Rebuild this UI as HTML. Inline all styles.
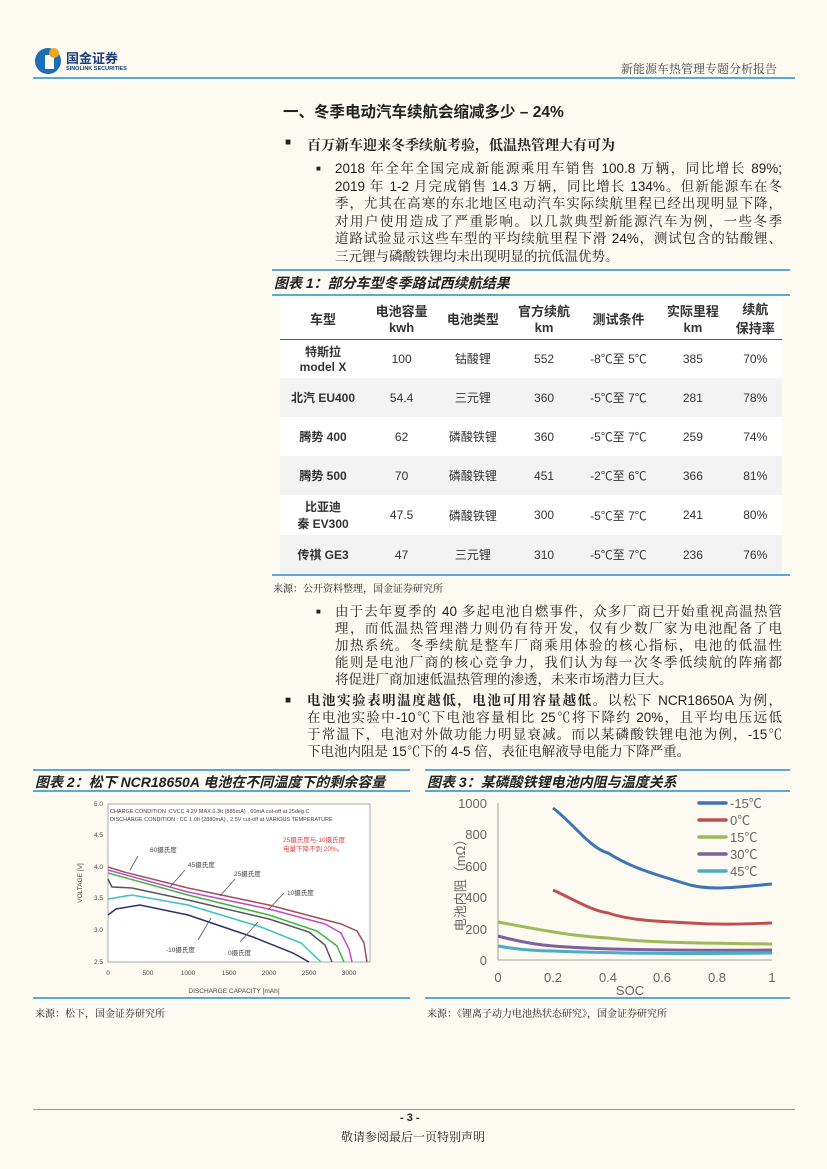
<!DOCTYPE html>
<html><head><meta charset="utf-8"><style>
body{margin:0;width:827px;height:1169px;background:#fdfbf1;position:relative;overflow:hidden;font-family:"Liberation Sans","Noto Sans CJK SC",sans-serif;color:#222}
.a{position:absolute;white-space:nowrap}
.p{position:absolute;font-family:"Liberation Sans","Noto Serif CJK SC",serif;font-size:13.5px;line-height:17.5px;color:#222}
.p div{white-space:nowrap;text-align:justify;text-align-last:justify;height:17.5px;overflow:visible}
.p div.l{text-align-last:left}
.q div{height:17px}
.bl{position:absolute;height:2px;background:#5aa9d6}
table{border-collapse:collapse;font-size:12px}
td{text-align:center;padding:0;color:#333}
.it{font-style:italic;font-weight:bold;font-size:14px;font-family:"Liberation Sans","Noto Sans CJK SC",sans-serif}
</style></head><body>
<!-- logo -->
<svg class="a" style="left:34px;top:46px" width="30" height="30"><circle cx="14" cy="15" r="13" fill="#1a6fb5"/><rect x="11" y="9" width="9" height="14" fill="#fdfbf1"/><circle cx="20" cy="7" r="5" fill="#f1a51c"/></svg>
<div class="a" style="left:66px;top:48px;font-size:13px;font-weight:bold;color:#1a3d7a">国金证券</div>
<div class="a" style="left:66px;top:66px;font-size:5.5px;font-weight:bold;color:#1a3d7a">SINOLINK SECURITIES</div>
<div class="a" style="left:621px;top:60px;font-size:12px;color:#444;font-family:'Liberation Serif','Noto Serif CJK SC',serif">新能源车热管理专题分析报告</div>
<div class="bl" style="left:33px;top:77px;width:762px;height:2px"></div>

<div class="a" style="left:283px;top:100px;font-size:15.5px;font-weight:bold">一、冬季电动汽车续航会缩减多少 – 24%</div>
<div class="a" style="left:285px;top:137px;font-size:10px">■</div>
<div class="a" style="left:307px;top:135px;font-size:14px;font-weight:bold;font-family:'Liberation Serif','Noto Serif CJK SC',serif">百万新车迎来冬季续航考验，低温热管理大有可为</div>
<div class="a" style="left:316px;top:164px;font-size:8px">■</div>
<div class="p" style="left:335px;top:160px;width:447px">
<div>2018 年全年全国完成新能源乘用车销售 100.8 万辆，同比增长 89%;</div>
<div>2019 年 1-2 月完成销售 14.3 万辆，同比增长 134%。但新能源车在冬</div>
<div>季，尤其在高寒的东北地区电动汽车实际续航里程已经出现明显下降，</div>
<div>对用户使用造成了严重影响。以几款典型新能源汽车为例，一些冬季</div>
<div>道路试验显示这些车型的平均续航里程下滑 24%，测试包含的钴酸锂、</div>
<div class="l">三元锂与磷酸铁锂均未出现明显的抗低温优势。</div>
</div>

<div class="bl" style="left:272px;top:269px;width:518px"></div>
<div class="a it" style="left:274px;top:273px">图表 1：部分车型冬季路试西续航结果</div>
<div class="bl" style="left:272px;top:294px;width:518px"></div>
<div class="a" style="left:280px;top:298px;width:502px;background:#fff">
<table style="width:502px">
<tr style="height:41px;font-weight:bold;font-size:13px;border-bottom:1px solid #555"><td style="width:86px">车型</td><td>电池容量<br>kwh</td><td>电池类型</td><td>官方续航<br>km</td><td>测试条件</td><td>实际里程<br>km</td><td>续航<br>保持率</td></tr>
<tr style="height:39px"><td style="font-weight:bold">特斯拉<br>model X</td><td>100</td><td>钴酸锂</td><td>552</td><td>-8℃至 5℃</td><td>385</td><td>70%</td></tr>
<tr style="height:39px;background:#f3f3f3"><td style="font-weight:bold">北汽 EU400</td><td>54.4</td><td>三元锂</td><td>360</td><td>-5℃至 7℃</td><td>281</td><td>78%</td></tr>
<tr style="height:39px"><td style="font-weight:bold">腾势 400</td><td>62</td><td>磷酸铁锂</td><td>360</td><td>-5℃至 7℃</td><td>259</td><td>74%</td></tr>
<tr style="height:39px;background:#f3f3f3"><td style="font-weight:bold">腾势 500</td><td>70</td><td>磷酸铁锂</td><td>451</td><td>-2℃至 6℃</td><td>366</td><td>81%</td></tr>
<tr style="height:40px"><td style="font-weight:bold">比亚迪<br>秦 EV300</td><td>47.5</td><td>磷酸铁锂</td><td>300</td><td>-5℃至 7℃</td><td>241</td><td>80%</td></tr>
<tr style="height:39px;background:#f3f3f3"><td style="font-weight:bold">传祺 GE3</td><td>47</td><td>三元锂</td><td>310</td><td>-5℃至 7℃</td><td>236</td><td>76%</td></tr>
</table></div>
<div class="bl" style="left:272px;top:574px;width:518px"></div>
<div class="a" style="left:273px;top:580px;font-size:10px;font-family:'Liberation Serif','Noto Serif CJK SC',serif">来源：公开资料整理，国金证券研究所</div>

<div class="a" style="left:316px;top:607px;font-size:8px">■</div>
<div class="p q" style="left:335px;top:603px;width:447px">
<div>由于去年夏季的 40 多起电池自燃事件，众多厂商已开始重视高温热管</div>
<div>理，而低温热管理潜力则仍有待开发，仅有少数厂家为电池配备了电</div>
<div>加热系统。冬季续航是整车厂商乘用体验的核心指标，电池的低温性</div>
<div>能则是电池厂商的核心竞争力，我们认为每一次冬季低续航的阵痛都</div>
<div class="l">将促进厂商加速低温热管理的渗透，未来市场潜力巨大。</div>
</div>
<div class="a" style="left:285px;top:695px;font-size:10px">■</div>
<div class="p q" style="left:307px;top:692px;width:475px">
<div><b>电池实验表明温度越低，电池可用容量越低。</b>以松下 NCR18650A 为例，</div>
<div>在电池实验中-10℃下电池容量相比 25℃将下降约 20%，且平均电压远低</div>
<div>于常温下，电池对外做功能力明显衰减。而以某磷酸铁锂电池为例，-15℃</div>
<div class="l">下电池内阻是 15℃下的 4-5 倍，表征电解液导电能力下降严重。</div>
</div>

<div class="bl" style="left:33px;top:769px;width:377px"></div>
<div class="bl" style="left:425px;top:769px;width:365px"></div>
<div class="a it" style="left:35px;top:772px">图表 2：松下 NCR18650A 电池在不同温度下的剩余容量</div>
<div class="a it" style="left:427px;top:772px">图表 3：某磷酸铁锂电池内阻与温度关系</div>
<div class="bl" style="left:33px;top:790px;width:377px"></div>
<div class="bl" style="left:425px;top:790px;width:365px"></div>

<svg class="a" style="left:0;top:0" width="827" height="1169">
<!-- chart2 -->
<rect x="108" y="804" width="262" height="158" fill="#fff" stroke="#888" stroke-width="0.7"/>
<g font-size="6.5" fill="#444" font-family="Liberation Sans,sans-serif">
<text x="103" y="806" text-anchor="end">5.0</text><text x="103" y="837" text-anchor="end">4.5</text><text x="103" y="869" text-anchor="end">4.0</text><text x="103" y="900" text-anchor="end">3.5</text><text x="103" y="932" text-anchor="end">3.0</text><text x="103" y="964" text-anchor="end">2.5</text>
<text x="108" y="975" text-anchor="middle">0</text><text x="148" y="975" text-anchor="middle">500</text><text x="188" y="975" text-anchor="middle">1000</text><text x="229" y="975" text-anchor="middle">1500</text><text x="269" y="975" text-anchor="middle">2000</text><text x="309" y="975" text-anchor="middle">2500</text><text x="349" y="975" text-anchor="middle">3000</text>
<text x="234" y="993" text-anchor="middle">DISCHARGE CAPACITY  [mAh]</text>
<text transform="translate(82,883) rotate(-90)" text-anchor="middle">VOLTAGE  [V]</text>
<text x="110" y="813" font-size="5.5">CHARGE CONDITION :CVCC 4.2V MAX.0.3It (885mA) , 60mA cut-off at 25deg.C</text>
<text x="110" y="821" font-size="5.5">DISCHARGE CONDITION : CC 1.0It (2880mA) , 2.5V cut-off at VARIOUS TEMPERATURE</text>
<text x="283" y="842" font-size="6.5" fill="#e04040">25摄氏度与-10摄氏度</text><text x="283" y="851" font-size="6.5" fill="#e04040">电量下降不到 20%。</text>
<text x="150" y="852" font-size="6.5">60摄氏度</text><text x="188" y="867" font-size="6.5">45摄氏度</text><text x="234" y="876" font-size="6.5">25摄氏度</text><text x="287" y="895" font-size="6.5">10摄氏度</text><text x="166" y="952" font-size="6.5">-10摄氏度</text><text x="228" y="955" font-size="6.5">0摄氏度</text>
</g>
<g fill="none" stroke-width="1.5">
<path stroke="#a05060" d="M108,867 L124,872 L188,888 L269,905 L341,924 L357,931 L364,943 L367,962"/>
<path stroke="#c04cc0" d="M108,870 L188,892 L269,909 L325,924 L341,933 L349,949 L352,962"/>
<path stroke="#3cb83c" d="M108,873 L188,895 L269,915 L317,931 L337,946 L344,962"/>
<path stroke="#555" d="M108,879 L112,887 L132,888 L188,900 L269,919 L309,932 L325,945 L332,962"/>
<path stroke="#3cc0c0" d="M108,899 L132,895 L188,905 L261,927 L301,943 L321,962"/>
<path stroke="#303070" d="M108,915 L116,909 L140,905 L188,915 L253,937 L293,953 L309,962"/>
</g>
<g stroke="#555" stroke-width="0.8"><line x1="138" y1="856" x2="130" y2="870"/><line x1="185" y1="870" x2="170" y2="887"/><line x1="235" y1="879" x2="220" y2="896"/><line x1="284" y1="893" x2="268" y2="910"/><line x1="211" y1="918" x2="198" y2="940"/><line x1="258" y1="922" x2="240" y2="942"/></g>

<!-- chart3 -->
<g stroke="#888" stroke-width="0.8"><line x1="498" y1="803" x2="498" y2="960"/><line x1="498" y1="960" x2="772" y2="960"/></g>
<g font-size="13" fill="#666" font-family="Liberation Sans,Noto Sans CJK SC,sans-serif">
<text x="487" y="808" text-anchor="end">1000</text><text x="487" y="839" text-anchor="end">800</text><text x="487" y="871" text-anchor="end">600</text><text x="487" y="902" text-anchor="end">400</text><text x="487" y="934" text-anchor="end">200</text><text x="487" y="965" text-anchor="end">0</text>
<text x="498" y="982" text-anchor="middle">0</text><text x="553" y="982" text-anchor="middle">0.2</text><text x="608" y="982" text-anchor="middle">0.4</text><text x="662" y="982" text-anchor="middle">0.6</text><text x="717" y="982" text-anchor="middle">0.8</text><text x="772" y="982" text-anchor="middle">1</text>
<text x="630" y="995" text-anchor="middle">SOC</text>
<text transform="translate(465,882) rotate(-90)" text-anchor="middle">电池内阻（mΩ）</text>
<text x="730" y="808">-15℃</text><text x="730" y="825">0℃</text><text x="730" y="842">15℃</text><text x="730" y="859">30℃</text><text x="730" y="876">45℃</text>
</g>
<g stroke-width="3.5" stroke-linecap="round">
<line x1="699" y1="803" x2="726" y2="803" stroke="#3f73b8"/><line x1="699" y1="820" x2="726" y2="820" stroke="#c0504d"/><line x1="699" y1="837" x2="726" y2="837" stroke="#9bbb59"/><line x1="699" y1="854" x2="726" y2="854" stroke="#7e5fa0"/><line x1="699" y1="871" x2="726" y2="871" stroke="#4bacc6"/>
</g>
<g fill="none" stroke-width="3">
<path stroke="#3f73b8" d="M553,808 C575,825 590,848 608,853 C630,867 650,873 690,885 C710,890 730,888 772,884"/>
<path stroke="#c0504d" d="M553,890 C575,900 590,910 608,913 C630,920 650,921 690,923 C720,925 740,924 772,923"/>
<path stroke="#9bbb59" d="M498,922 C530,928 570,936 608,938 C640,942 680,943 772,944"/>
<path stroke="#7e5fa0" d="M498,936 C520,942 540,945 553,946 C590,949 650,951 772,950"/>
<path stroke="#4bacc6" d="M498,946 C520,950 540,951 553,951 C600,953 680,954 772,953"/>
</g>
</svg>

<div class="bl" style="left:33px;top:997px;width:377px"></div>
<div class="bl" style="left:425px;top:997px;width:365px"></div>
<div class="a" style="left:35px;top:1005px;font-size:10px;font-family:'Liberation Serif','Noto Serif CJK SC',serif">来源：松下，国金证券研究所</div>
<div class="a" style="left:427px;top:1005px;font-size:10px;font-family:'Liberation Serif','Noto Serif CJK SC',serif">来源：《锂离子动力电池热状态研究》，国金证券研究所</div>

<div class="bl" style="left:33px;top:1109px;width:762px;height:1px"></div>
<div class="a" style="left:400px;top:1112px;font-size:11px;font-weight:bold">- 3 -</div>
<div class="a" style="left:341px;top:1128px;font-size:12px;font-family:'Liberation Serif','Noto Serif CJK SC',serif">敬请参阅最后一页特别声明</div>
</body></html>
